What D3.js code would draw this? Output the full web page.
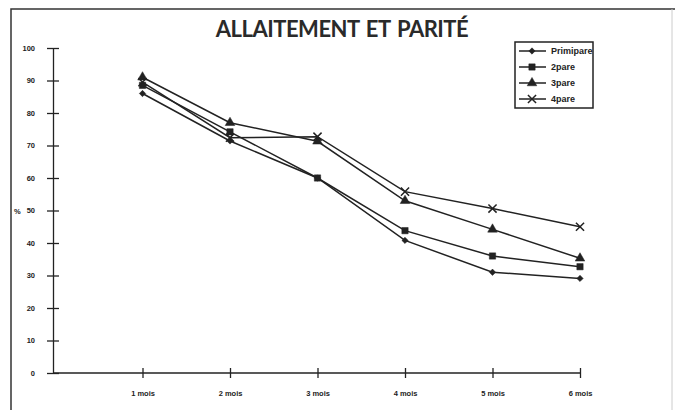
<!DOCTYPE html>
<html>
<head>
<meta charset="utf-8">
<script src="https://cdn.jsdelivr.net/npm/d3@7"></script>
<style>
  body { margin: 0; background: #fff; }
  svg { display: block; }
  .tick text { font-family: Arial, "Liberation Sans", sans-serif; font-weight: bold; font-size: 7.5px; fill: #222; }
</style>
</head>
<body>
<svg width="675" height="410"></svg>
<script>
const months = ['1 mois', '2 mois', '3 mois', '4 mois', '5 mois', '6 mois']
const yTicks = [0, 10, 20, 30, 40, 50, 60, 70, 80, 90, 100]
const primipare = [86, 71.4, 60, 40.8, 31, 29.1]
const deuxPare = [88.5, 74.2, 60, 43.8, 36, 32.7]
const troisPare = [91, 77, 71.3, 53, 44.2, 35.3]
const quatrePare = [89.5, 72.4, 72.7, 55.8, 50.6, 45]

const series = [
  {name: 'Primipare', values: primipare, symbol: 'diamond'},
  {name: '2pare', values: deuxPare, symbol: 'square'},
  {name: '3pare', values: troisPare, symbol: 'triangle'},
  {name: '4pare', values: quatrePare, symbol: 'cross'}
]

const ink = '#222'
const svg = d3.select('svg')

// cadre
svg.append('path').attr('d', 'M11,410V9H675').attr('fill', 'none').attr('stroke', '#333').attr('stroke-width', 1.5)
svg.append('line').attr('x1', 672).attr('x2', 672).attr('y1', 9).attr('y2', 410).attr('stroke', '#ccc')

svg.append('text')
  .attr('x', 342).attr('y', 37)
  .attr('text-anchor', 'middle')
  .style('font', 'bold 22px Lato, "Open Sans", sans-serif')
  .style('letter-spacing', '-0.5px')
  .style('word-spacing', '2px')
  .attr('fill', '#2a2a2a')
  .text('ALLAITEMENT ET PARITÉ')

const x = d3.scaleLinear().domain([0, 6]).range([55, 580])
const y = d3.scaleLinear().domain([0, 100]).range([373, 48])

const yAxis = svg.append('g')
  .attr('transform', 'translate(53,0)')
  .call(d3.axisLeft(y).tickValues(yTicks).tickSize(6).tickPadding(12).tickSizeOuter(0))
yAxis.selectAll('.tick line').attr('x2', 6).attr('x1', -6)
yAxis.selectAll('line, path').attr('stroke', ink).attr('stroke-width', 1.3)

const xAxis = svg.append('g')
  .attr('transform', 'translate(0,373)')
  .call(d3.axisBottom(x).tickValues(d3.range(1, 7)).tickFormat(d => months[d - 1]).tickSize(0).tickPadding(18).tickSizeOuter(0))
xAxis.select('.domain').attr('d', 'M53,0H' + x(6))
xAxis.selectAll('.tick line').attr('y1', -5).attr('y2', 5)
xAxis.selectAll('line, path').attr('stroke', ink).attr('stroke-width', 1.3)

svg.append('text')
  .attr('x', 14).attr('y', y(50) + 3)
  .style('font', 'bold 7.5px Arial, sans-serif')
  .attr('fill', ink)
  .text('%')

const symbols = {
  diamond: d3.symbol(d3.symbolSquare, 20),
  square: d3.symbol(d3.symbolSquare, 40),
  triangle: d3.symbol(d3.symbolTriangle, 40),
  cross: d3.symbol(d3.symbolX, 45)
}
const rot = s => s === 'diamond' ? ' rotate(45)' : ''

const line = d3.line()
  .x((d, i) => x(i + 1))
  .y(d => y(d))

const g = svg.append('g')
series.forEach(s => {
  g.append('path')
    .attr('d', line(s.values))
    .attr('fill', 'none')
    .attr('stroke', ink)
    .attr('stroke-width', 1.5)
  g.selectAll(null)
    .data(s.values)
    .enter()
    .append('path')
    .attr('transform', (d, i) => 'translate(' + x(i + 1) + ',' + y(d) + ')' + rot(s.symbol))
    .attr('d', symbols[s.symbol])
    .attr('fill', s.symbol === 'cross' ? 'none' : ink)
    .attr('stroke', ink)
    .attr('stroke-width', s.symbol === 'cross' ? 1.5 : 0.5)
})

// légende
const legend = svg.append('g').attr('transform', 'translate(515,42)')
legend.append('rect')
  .attr('width', 78).attr('height', 66)
  .attr('fill', '#fff').attr('stroke', ink).attr('stroke-width', 1.5)
const item = legend.selectAll('.item')
  .data(series)
  .enter()
  .append('g')
  .attr('transform', (d, i) => 'translate(0,' + (9 + i * 16) + ')')
item.append('line')
  .attr('x1', 4).attr('x2', 31)
  .attr('stroke', ink).attr('stroke-width', 1.5)
item.append('path')
  .attr('transform', d => 'translate(17,0)' + rot(d.symbol))
  .attr('d', d => symbols[d.symbol]())
  .attr('fill', d => d.symbol === 'cross' ? 'none' : ink)
  .attr('stroke', ink)
  .attr('stroke-width', d => d.symbol === 'cross' ? 1.5 : 0.5)
item.append('text')
  .attr('x', 36).attr('dy', '0.35em')
  .style('font', 'bold 9px Arial, "Liberation Sans", sans-serif')
  .attr('fill', ink)
  .text(d => d.name)
</script>
</body>
</html>
